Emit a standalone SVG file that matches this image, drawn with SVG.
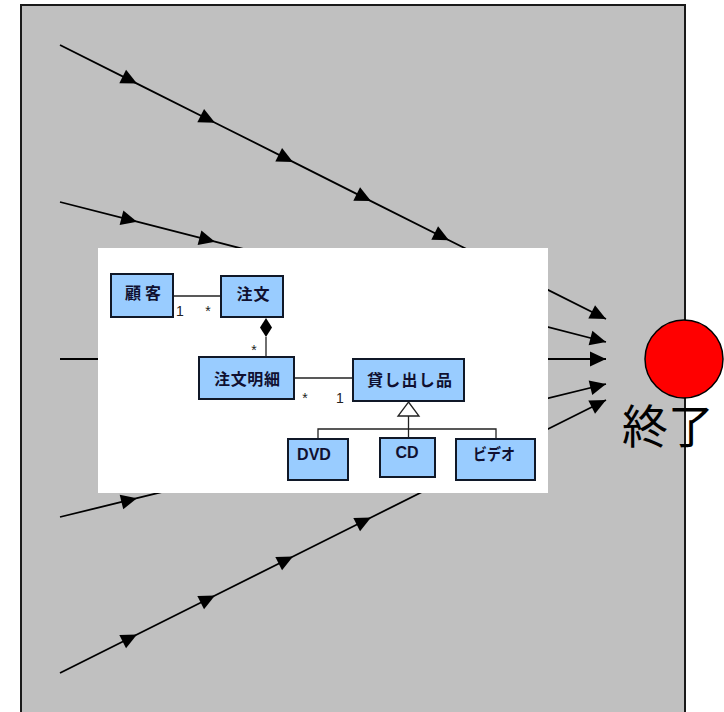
<svg xmlns="http://www.w3.org/2000/svg" width="724" height="712" viewBox="0 0 724 712">
  <style>
    .flow { fill: none; stroke: #000; stroke-width: 1.8; marker-mid: url(#arr); marker-end: url(#arr); }
    .cls { fill: #99CCFF; stroke: #101828; stroke-width: 2; }
    .lbl { font-family: "Liberation Sans", "Noto Sans CJK JP", sans-serif; font-weight: bold; font-size: 16px; fill: #101030; text-anchor: middle; }
    .uline { fill: none; stroke: #222; stroke-width: 1.3; }
    .mult { font-family: "Liberation Sans", sans-serif; font-size: 14px; fill: #222; text-anchor: middle; }
  </style>
  <defs>
    <marker id="arr" markerUnits="userSpaceOnUse" markerWidth="16" markerHeight="15" refX="16" refY="7.5" orient="auto" overflow="visible">
      <path d="M0,0 L16,7.5 L0,15 z" fill="#000"/>
    </marker>
  </defs>

  <g id="frame">
    <rect x="21" y="5" width="664" height="720" fill="#C0C0C0" stroke="#1a1a1a" stroke-width="2"/>
  </g>

  <g id="connectors">
    <polyline class="flow" points="60,45 137,83.6 215,122.8 293,161.9 371,201.1 449,240.2 527,279.4 606,319"/>
    <polyline class="flow" points="60,202 137,221.7 215,241.7 293,261.7 371,281.7 449,301.7 527,321.7 606,342"/>
    <polyline class="flow" points="60,359 137,359 215,359 293,359 371,359 449,359 527,359 606,359"/>
    <polyline class="flow" points="60,517 137,498.2 215,479.2 293,460.2 371,441.2 449,422.3 527,403.3 606,384"/>
    <polyline class="flow" points="60,673 137,634.5 215,595.5 293,556.5 371,517.5 449,478.5 527,439.5 606,400"/>
  </g>

  <g id="class-diagram">
    <rect x="98" y="248" width="450" height="245" fill="#fff"/>
    <g id="uml-links">
      <line class="uline" x1="173" y1="296" x2="221" y2="296"/>
      <text class="mult" x="180" y="316">1</text>
      <text class="mult" x="208" y="316">*</text>
      <polygon points="266,318 272,327.5 266,337 260,327.5" fill="#000"/>
      <line class="uline" x1="266" y1="337" x2="266" y2="357"/>
      <text class="mult" x="254" y="355">*</text>
      <line class="uline" x1="294" y1="378" x2="353" y2="378"/>
      <text class="mult" x="305" y="403">*</text>
      <text class="mult" x="340" y="403">1</text>
      <polygon points="408.5,402 419,416 398,416" fill="#fff" stroke="#222" stroke-width="1.3"/>
      <polyline class="uline" points="408.5,416 408.5,438"/>
      <polyline class="uline" points="318,439 318,429 496,429 496,439"/>
    </g>
    <g id="kokyaku">
      <rect class="cls" x="111" y="274" width="62" height="43"/>
      <text class="lbl" x="143" y="299" textLength="36" lengthAdjust="spacing">顧客</text>
    </g>
    <g id="chumon">
      <rect class="cls" x="221" y="276" width="62" height="41"/>
      <text class="lbl" x="253" y="300" textLength="33" lengthAdjust="spacing">注文</text>
    </g>
    <g id="chumon-meisai">
      <rect class="cls" x="199" y="357" width="95" height="42"/>
      <text class="lbl" x="247" y="385" textLength="66" lengthAdjust="spacing">注文明細</text>
    </g>
    <g id="kashidashihin">
      <rect class="cls" x="353" y="359" width="111" height="42"/>
      <text class="lbl" x="409.5" y="386" textLength="85" lengthAdjust="spacing">貸し出し品</text>
    </g>
    <g id="dvd">
      <rect class="cls" x="288" y="439" width="60" height="41"/>
      <text class="lbl" x="314" y="460">DVD</text>
    </g>
    <g id="cd">
      <rect class="cls" x="380" y="438" width="55" height="39"/>
      <text class="lbl" x="407" y="458">CD</text>
    </g>
    <g id="video">
      <rect class="cls" x="456" y="439" width="79" height="41"/>
      <text class="lbl" x="494" y="460" textLength="42" lengthAdjust="spacingAndGlyphs">ビデオ</text>
    </g>
  </g>

  <g id="end-node">
    <circle cx="684" cy="359" r="39" fill="#FF0000" stroke="#000" stroke-width="1.5"/>
    <text x="622" y="443" font-family="'Noto Sans CJK JP', sans-serif" font-size="46" fill="#000">終了</text>
  </g>
</svg>
